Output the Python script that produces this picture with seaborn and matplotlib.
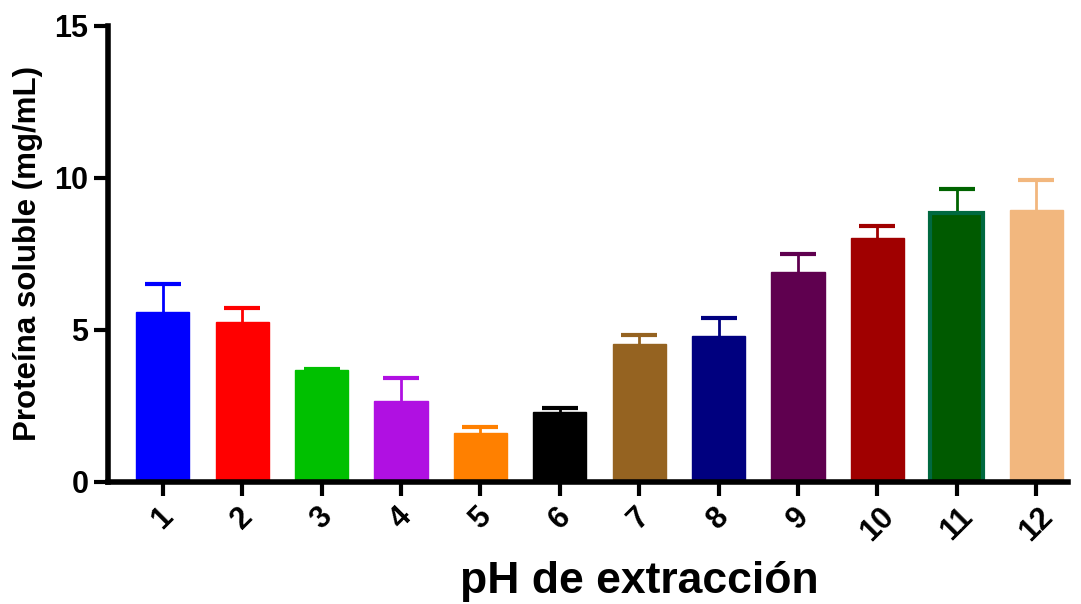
import matplotlib
matplotlib.use("Agg")
import matplotlib.pyplot as plt
import seaborn as sns
import pandas as pd
import numpy as np

categories = ["1", "2", "3", "4", "5", "6", "7", "8", "9", "10", "11", "12"]
means = [5.59, 5.26, 3.68, 2.66, 1.61, 2.30, 4.54, 4.80, 6.91, 8.03, 8.85, 8.95]
errors = [0.92, 0.46, 0.04, 0.76, 0.20, 0.13, 0.30, 0.59, 0.59, 0.39, 0.79, 0.98]
colors = ["#0000FF", "#FF0000", "#00C000", "#B010E2", "#FF8000", "#000000",
          "#956321", "#00007F", "#5F004F", "#A00000", "#005A00", "#F2B77E"]
edge_colors = ["#0000FF", "#FF0000", "#00C000", "#B010E2", "#FF8000", "#000000",
               "#956321", "#00007F", "#5F004F", "#A00000", "#006940", "#F2B77E"]

sns.set_theme(style="white")
plt.rcParams['font.family'] = ['Liberation Sans', 'DejaVu Sans']
plt.rcParams['font.weight'] = 'bold'
plt.rcParams['text.color'] = 'black'
plt.rcParams['axes.labelcolor'] = 'black'
plt.rcParams['xtick.color'] = 'black'
plt.rcParams['ytick.color'] = 'black'

df = pd.DataFrame({"pH": categories, "val": means})

fig = plt.figure(figsize=(10.81, 6.04), dpi=100)
ax = fig.add_axes([0.0999, 0.202, 0.888, 0.755])

sns.barplot(data=df, x="pH", y="val", hue="pH", palette=colors, legend=False,
            width=0.67, ax=ax, saturation=1)

for i, p in enumerate(ax.patches):
    p.set_edgecolor(edge_colors[i])
    p.set_linewidth(3 if i == 10 else 1)
    p.set_zorder(2)
    xc = p.get_x() + p.get_width() / 2
    ecol = colors[i] if i != 10 else "#006400"
    line, caps, bars = ax.errorbar(xc, means[i], yerr=[[0], [errors[i]]], color=ecol,
                                   capsize=13, elinewidth=2, capthick=3, zorder=1)
    if len(caps) > 1:
        caps[0].set_visible(False)

ax.set_ylim(0, 15)
ax.set_xlim(-0.69, 11.4)
ax.set_yticks([0, 5, 10, 15])
ax.set_yticklabels(["0", "5", "10", "15"])
ax.set_xticks(range(len(categories)))
ax.set_xticklabels(categories, rotation=45, ha="center")

for s in ["top", "right"]:
    ax.spines[s].set_visible(False)
for s in ["left", "bottom"]:
    ax.spines[s].set_linewidth(4)
    ax.spines[s].set_color("black")

ax.tick_params(axis="both", which="major", direction="out", length=10, width=3,
               color="black", labelcolor="black", labelsize=22, pad=4, bottom=True, left=True)
for lab in ax.get_xticklabels() + ax.get_yticklabels():
    lab.set_fontweight("bold")

ax.set_ylabel("Proteína soluble (mg/mL)", fontsize=22.5, fontweight="bold", labelpad=8, color="black")
ax.set_xlabel("pH de extracción", fontsize=32, fontweight="bold", labelpad=10, color="black")
ax.xaxis.label.set_x(0.554)

fig.savefig("out.png", dpi=100)
